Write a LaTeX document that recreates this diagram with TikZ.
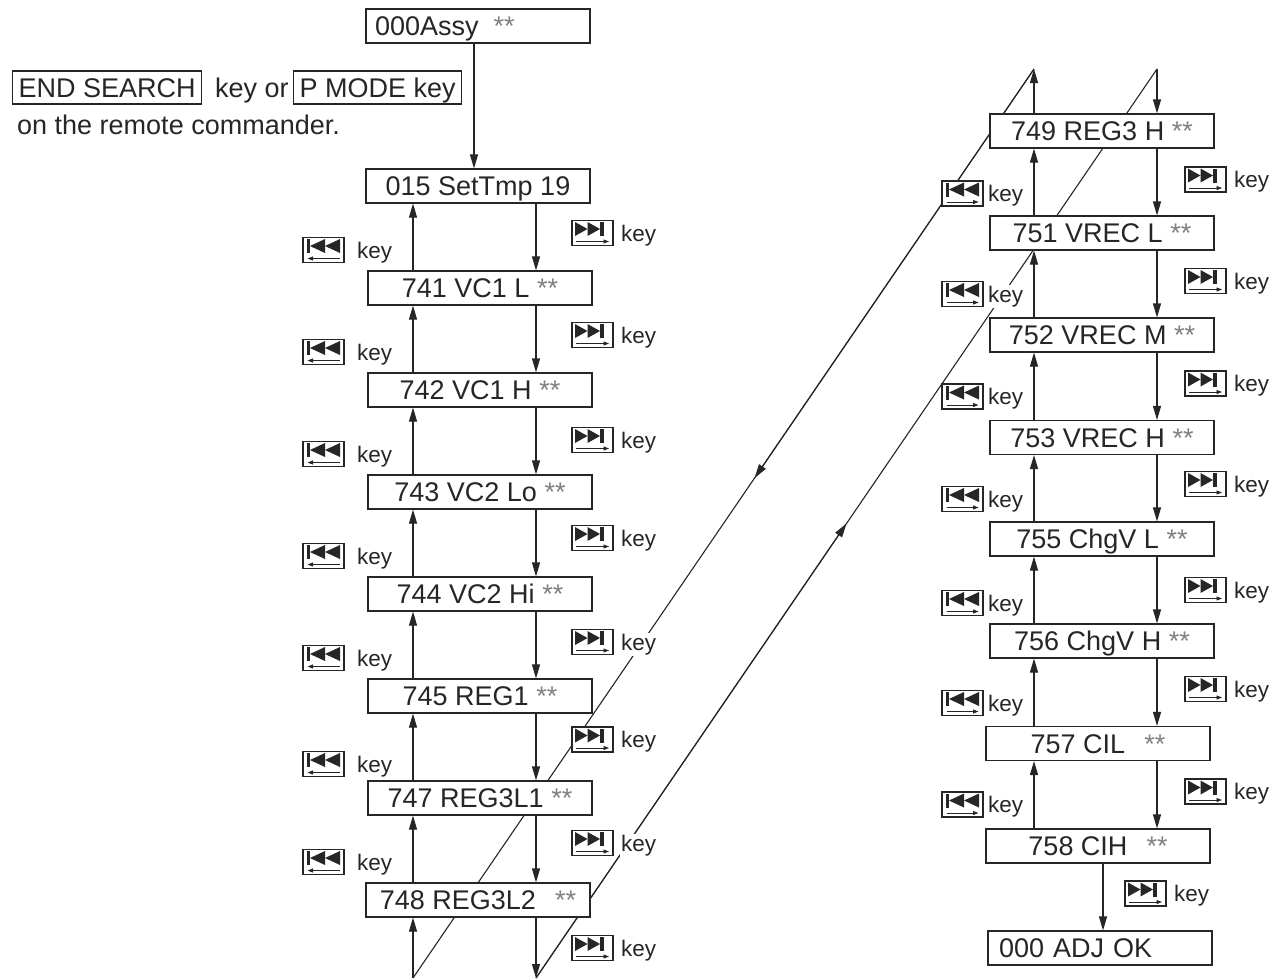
\documentclass[tikz,border=0pt]{standalone}
\usepackage{fontspec}
\setmainfont{Liberation Sans}
\usetikzlibrary{arrows.meta,calc}
\definecolor{ink}{gray}{0.15}
\definecolor{starc}{gray}{0.5}
\newcommand\astpair{\textcolor{starc}{**}}
\tikzset{
  ln/.style={draw=ink, line width=1.1pt},
  arr/.style={ln, -{Triangle[length=14pt,width=8pt]}},
  stepbox/.style={draw=ink, fill=white, line width=1.1pt, minimum width=224pt, minimum height=34pt,
    inner sep=0pt, text height=19.5pt, text depth=0pt, text=ink,
    font=\fontsize{27}{30}\selectfont},
  keytxt/.style={font=\fontsize{22.5}{26}\selectfont, fill=white, inner sep=1pt, anchor=base west, text=ink},
  bigtxt/.style={font=\fontsize{27}{30}\selectfont, inner sep=0pt, anchor=base west, text=ink},
  framed/.style={draw=ink, line width=1.1pt, inner xsep=6pt, inner ysep=3pt,
    text height=23pt, text depth=4pt, font=\fontsize{27}{30}\selectfont, anchor=base west, text=ink},
  iconbox/.style={draw=ink, fill=white, line width=1.4pt, minimum width=41pt, minimum height=25pt, inner sep=0pt},
  smallarr/.style={draw=ink, line width=0.9pt, -{Triangle[length=5.5pt,width=4pt]}},
  prevkeyL/.pic={
    \node[iconbox] (-box) at (0,0) {};
    \fill[ink] (-17,-11) rectangle (-13.5,3);
    \fill[ink] (-13.5,-4) -- (1.5,-11) -- (1.5,3) -- cycle;
    \fill[ink] (1.5,-4) -- (16.5,-11) -- (16.5,3) -- cycle;
    \draw[smallarr] (16,8.5) -- (-16,8.5);
  },
  prevkeyR/.pic={
    \node[iconbox] (-box) at (0,0) {};
    \fill[ink] (-17,-11) rectangle (-13.5,3);
    \fill[ink] (-13.5,-4) -- (1.5,-11) -- (1.5,3) -- cycle;
    \fill[ink] (1.5,-4) -- (16.5,-11) -- (16.5,3) -- cycle;
    \draw[smallarr] (-16,8.5) -- (16,8.5);
  },
  nextkey/.pic={
    \node[iconbox] (-box) at (0,0) {};
    \fill[ink] (-17.5,-11) -- (-17.5,3) -- (-5,-4) -- cycle;
    \fill[ink] (-5,-11) -- (-5,3) -- (7.5,-4) -- cycle;
    \fill[ink] (7.5,-11) rectangle (11,3);
    \draw[smallarr] (-16.5,8.5) -- (16.5,8.5);
  }
}
\begin{document}
\begin{tikzpicture}[x=1pt,y=-1pt]
\useasboundingbox[fill=white] (0,0) rectangle (1283,978);

% column x positions and loop corners
\coordinate (st) at (474,0);
\coordinate (ul) at (413,0);
\coordinate (dl) at (536,0);
\coordinate (ur) at (1034,0);
\coordinate (dr) at (1157,0);
\coordinate (fin) at (1103,0);
\coordinate (topL) at (1034,69);
\coordinate (topR) at (1157,69);
\coordinate (botL) at (413,978);
\coordinate (botR) at (536,978);

% crossing links between columns (drawn first, hidden behind boxes)
\draw[ln] (topL) -- (botL);
\draw[arr] (topL) -- ($(topL)!0.45!(botL)$);
\draw[ln] (botR) -- (topR);
\draw[arr] (botR) -- ($(botR)!0.5!(topR)$);

% top-left note
\node[framed] (es) at (12,97) {END SEARCH};
\node[bigtxt] (keyor) at (215,97) {key or};
\node[framed] (pm) at (293,97) {P MODE key};
\node[bigtxt] (remote) at (17,134) {on the remote commander.};

% left column
\node[stepbox, align=left, text width=206pt] (assy) at (478,26) {000Assy\hspace{15pt}\astpair};
\node[stepbox] (s015) at (478,186) {015 SetTmp 19};
\node[stepbox] (v741) at (480,288) {741 VC1 L \astpair};
\node[stepbox] (v742) at (480,390) {742 VC1 H \astpair};
\node[stepbox] (v743) at (480,492) {743 VC2 Lo \astpair};
\node[stepbox] (v744) at (480,594) {744 VC2 Hi \astpair};
\node[stepbox] (v745) at (480,696) {745 REG1 \astpair};
\node[stepbox] (v747) at (480,798) {747 REG3L1 \astpair};
\node[stepbox] (v748) at (478,900) {748 REG3L2\hspace{19pt}\astpair};

% right column
\node[stepbox] (r749) at (1102,131) {749 REG3 H \astpair};
\node[stepbox] (r751) at (1102,233) {751 VREC L \astpair};
\node[stepbox] (r752) at (1102,335) {752 VREC M \astpair};
\node[stepbox] (r753) at (1102,437.5) {753 VREC H \astpair};
\node[stepbox] (r755) at (1102,539) {755 ChgV L \astpair};
\node[stepbox] (r756) at (1102,641) {756 ChgV H \astpair};
\node[stepbox] (r757) at (1098,743.5) {757 CIL\hspace{19pt}\astpair};
\node[stepbox] (r758) at (1098,846) {758 CIH\hspace{19pt}\astpair};
\node[stepbox, align=left, text width=202pt] (adj) at (1100,948) {000 ADJ OK};

% connectors
\draw[arr] (assy.south -| st) -- (s015.north -| st);
\foreach \a/\b in {s015/v741, v741/v742, v742/v743, v743/v744, v744/v745, v745/v747, v747/v748}{
  \draw[arr] (\a.south -| dl) -- (\b.north -| dl);
  \draw[arr] (\b.north -| ul) -- (\a.south -| ul);
}
\foreach \a/\b in {r749/r751, r751/r752, r752/r753, r753/r755, r755/r756, r756/r757, r757/r758}{
  \draw[arr] (\a.south -| dr) -- (\b.north -| dr);
  \draw[arr] (\b.north -| ur) -- (\a.south -| ur);
}
\draw[arr] (r758.south -| fin) -- (adj.north -| fin);
\draw[arr] (r749.north -| ur) -- (topL);
\draw[arr] (botL) -- (v748.south -| ul);
\draw[arr] (v748.south -| dl) -- (botR);
\draw[arr] (topR) -- (r749.north -| dr);

% key icons, left column
\foreach \y [count=\i] in {250,352,454,556,658,764,862}{
  \pic (lp\i) at (323.5,\y) {prevkeyL};
  \node[keytxt] (lpk\i) at (356,\y+8) {key};
}
\foreach \y [count=\i] in {233,335,440,538,642,739.5,843,948}{
  \pic (ln\i) at (592.5,\y) {nextkey};
  \node[keytxt] (lnk\i) at (620,\y+8) {key};
}
% key icons, right column
\foreach \y [count=\i] in {193.5,294,396.5,499,603,703,804.5}{
  \pic (rp\i) at (962.5,\y) {prevkeyR};
  \node[keytxt] (rpk\i) at (987,\y+8) {key};
}
\foreach \y [count=\i] in {179.5,281,383.5,484,590,689,791.5}{
  \pic (rn\i) at (1205.5,\y) {nextkey};
  \node[keytxt] (rnk\i) at (1233,\y+8) {key};
}
\pic (fn) at (1145.5,893.5) {nextkey};
\node[keytxt] (fnk) at (1173,901.5) {key};
\end{tikzpicture}
\end{document}
